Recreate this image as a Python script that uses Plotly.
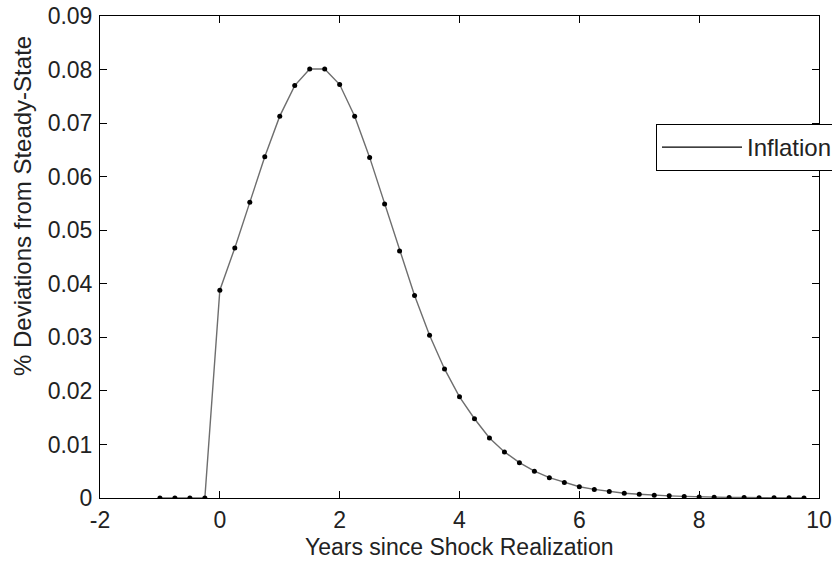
import plotly.graph_objects as go

# Quarterly impulse response of inflation (years relative to the shock)
years = [-1.0, -0.75, -0.5, -0.25, 0.0, 0.25, 0.5, 0.75, 1.0, 1.25, 1.5, 1.75,
         2.0, 2.25, 2.5, 2.75, 3.0, 3.25, 3.5, 3.75, 4.0, 4.25, 4.5, 4.75,
         5.0, 5.25, 5.5, 5.75, 6.0, 6.25, 6.5, 6.75, 7.0, 7.25, 7.5, 7.75,
         8.0, 8.25, 8.5, 8.75, 9.0, 9.25, 9.5, 9.75]
inflation = [0.0, 0.0, 0.0, 0.0, 0.0388, 0.0467, 0.0552, 0.0637, 0.0713, 0.0770,
             0.0801, 0.0801, 0.0772, 0.0713, 0.0636, 0.0549, 0.0461, 0.0378,
             0.0304, 0.0241, 0.0189, 0.0148, 0.0112, 0.0086, 0.0066, 0.0050,
             0.0038, 0.0029, 0.0021, 0.0016, 0.0012, 0.0009, 0.0007, 0.0005,
             0.0004, 0.0003, 0.0002, 0.00015, 0.0001, 0.00008, 0.00006,
             0.00004, 0.00003, 0.00002]

x_ticks = [-2, 0, 2, 4, 6, 8, 10]
x_tick_text = ["-2", "0", "2", "4", "6", "8", "10"]
y_ticks = [0, 0.01, 0.02, 0.03, 0.04, 0.05, 0.06, 0.07, 0.08, 0.09]
y_tick_text = ["0", "0.01", "0.02", "0.03", "0.04", "0.05", "0.06", "0.07", "0.08", "0.09"]

FONT = "Liberation Sans, Arial, sans-serif"
TEXT = "#222222"

# plot-area edges in pixels
PX_L, PX_R, PX_T, PX_B = 100, 819, 16, 498
W, H = 832, 562


def to_paper_x(px):
    return (px - PX_L) / (PX_R - PX_L)


def to_paper_y(py):
    return (PX_B - py) / (PX_B - PX_T)


fig = go.Figure()

fig.add_trace(go.Scatter(
    x=years, y=inflation, mode="lines+markers",
    line=dict(color="#6e6e6e", width=1.4),
    marker=dict(color="black", size=5, symbol="circle"),
    showlegend=False, hoverinfo="x+y",
))

# legend entry: plain black line
fig.add_trace(go.Scatter(
    x=[None], y=[None], mode="lines", name="Inflation",
    line=dict(color="black", width=1.2), showlegend=True,
))

axis_common = dict(
    showline=True, linecolor="black", linewidth=1, mirror="ticks",
    ticks="inside", ticklen=7, tickcolor="black", tickwidth=1,
    showgrid=False, zeroline=False, automargin=False,
    tickfont=dict(family=FONT, size=23, color=TEXT),
)

fig.update_layout(
    width=W, height=H,
    margin=dict(l=PX_L, r=W - PX_R, t=PX_T, b=H - PX_B, autoexpand=False),
    paper_bgcolor="white", plot_bgcolor="white",
    xaxis=dict(range=[-2, 10], tickvals=x_ticks, ticktext=x_tick_text,
               ticklabelstandoff=1, **axis_common),
    yaxis=dict(range=[0, 0.09], tickvals=y_ticks, ticktext=y_tick_text,
               ticklabelstandoff=2, **axis_common),
    legend=dict(
        x=to_paper_x(656), y=to_paper_y(124), xanchor="left", yanchor="top",
        bgcolor="white", bordercolor="black", borderwidth=1,
        font=dict(family=FONT, size=24, color=TEXT),
        itemwidth=80,
    ),
    annotations=[
        dict(text="Years since Shock Realization",
             x=0.5, y=to_paper_y(547), xref="paper", yref="paper",
             xanchor="center", yanchor="middle", showarrow=False,
             font=dict(family=FONT, size=23, color=TEXT)),
        dict(text="% Deviations from Steady-State",
             x=to_paper_x(22), y=to_paper_y(206), xref="paper", yref="paper",
             xanchor="center", yanchor="middle", textangle=-90, showarrow=False,
             font=dict(family=FONT, size=24, color=TEXT)),
    ],
)

fig.write_html("out.html")
